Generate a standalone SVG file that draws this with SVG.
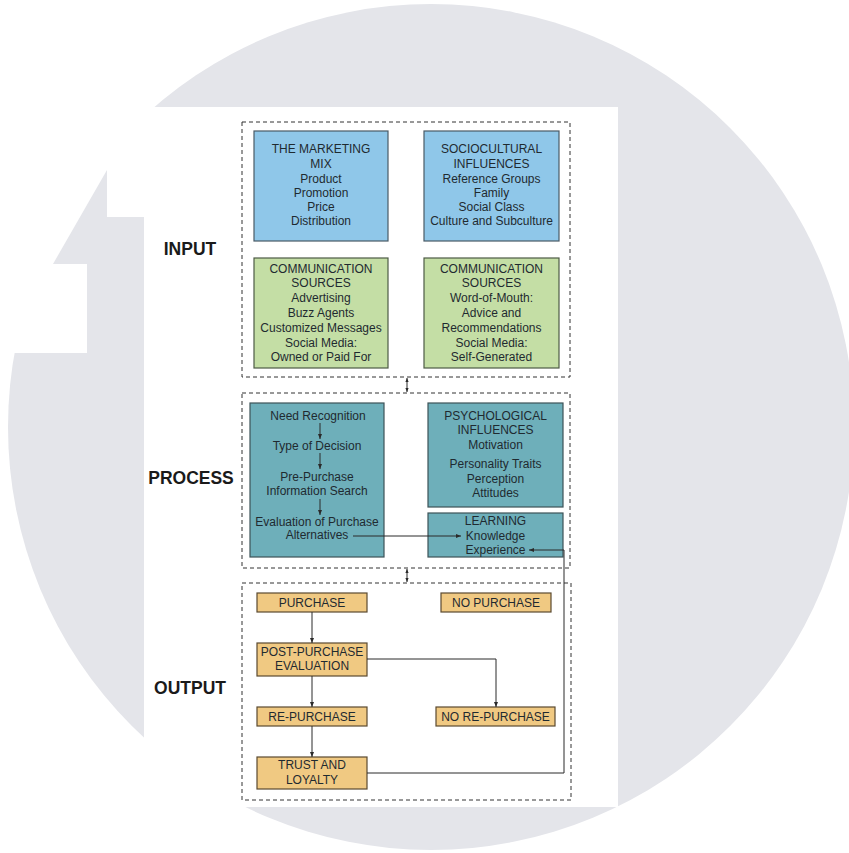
<svg xmlns="http://www.w3.org/2000/svg" width="849" height="853" viewBox="0 0 849 853">
<style>
.t{font-family:"Liberation Sans",Arial,sans-serif;font-size:12px;fill:#1f2a30;text-anchor:middle}
.lbl{font-family:"Liberation Sans",Arial,sans-serif;font-size:17.5px;font-weight:bold;fill:#1a1a1a;text-anchor:middle}
.dash{fill:none;stroke:#333;stroke-width:1;stroke-dasharray:4 3}
.blue{fill:#8fc7e9;stroke:#4a5a66;stroke-width:1.2}
.green{fill:#c4dea5;stroke:#4d5a45;stroke-width:1.2}
.teal{fill:#6eafba;stroke:#3d5358;stroke-width:1.2}
.tan{fill:#f0c982;stroke:#5a4a30;stroke-width:1.2}
.c{fill:none;stroke:#2a2a2a;stroke-width:1}
</style>
<defs>
<marker id="ah" viewBox="0 0 10 10" refX="10" refY="5" markerWidth="5" markerHeight="5" orient="auto" markerUnits="userSpaceOnUse">
<path d="M0,1 L10,5 L0,9 z" fill="#2a2a2a"/>
</marker>
<marker id="ah2" viewBox="0 0 10 10" refX="10" refY="5" markerWidth="4" markerHeight="4" orient="auto-start-reverse" markerUnits="userSpaceOnUse">
<path d="M0,1 L10,5 L0,9 z" fill="#2a2a2a"/>
</marker>
</defs>
<rect width="849" height="853" fill="#ffffff"/>
<circle cx="431" cy="427" r="423" fill="#e4e5ea"/>
<polygon points="0,0 144,0 144,217 107,217 107,170 53,264 87,264 87,353 0,353" fill="#ffffff"/>
<rect x="144" y="107" width="474" height="700" fill="#ffffff"/>

<g id="labels">
<text class="lbl" x="190" y="255">INPUT</text>
<text class="lbl" x="191" y="484">PROCESS</text>
<text class="lbl" x="190" y="694">OUTPUT</text>
</g>

<g id="sections">
<rect class="dash" x="242" y="122" width="328" height="255"/>
<rect class="dash" x="242" y="393" width="328" height="175"/>
<rect class="dash" x="242" y="583" width="329" height="217"/>
</g>

<g id="marketing-mix">
<rect class="blue" x="254" y="131" width="134" height="110"/>
<text class="t" x="321" y="153">THE MARKETING</text>
<text class="t" x="321" y="168">MIX</text>
<text class="t" x="321" y="183">Product</text>
<text class="t" x="321" y="197">Promotion</text>
<text class="t" x="321" y="211">Price</text>
<text class="t" x="321" y="225">Distribution</text>
</g>

<g id="sociocultural">
<rect class="blue" x="424" y="131" width="135" height="110"/>
<text class="t" x="491.5" y="153">SOCIOCULTURAL</text>
<text class="t" x="491.5" y="168">INFLUENCES</text>
<text class="t" x="491.5" y="183">Reference Groups</text>
<text class="t" x="491.5" y="197">Family</text>
<text class="t" x="491.5" y="211">Social Class</text>
<text class="t" x="491.5" y="225">Culture and Subculture</text>
</g>

<g id="comm-left">
<rect class="green" x="254" y="258" width="134" height="110"/>
<text class="t" x="321" y="273">COMMUNICATION</text>
<text class="t" x="321" y="287">SOURCES</text>
<text class="t" x="321" y="302">Advertising</text>
<text class="t" x="321" y="317">Buzz Agents</text>
<text class="t" x="321" y="332">Customized Messages</text>
<text class="t" x="321" y="347">Social Media:</text>
<text class="t" x="321" y="361">Owned or Paid For</text>
</g>

<g id="comm-right">
<rect class="green" x="424" y="258" width="135" height="110"/>
<text class="t" x="491.5" y="273">COMMUNICATION</text>
<text class="t" x="491.5" y="287">SOURCES</text>
<text class="t" x="491.5" y="302">Word-of-Mouth:</text>
<text class="t" x="491.5" y="317">Advice and</text>
<text class="t" x="491.5" y="332">Recommendations</text>
<text class="t" x="491.5" y="347">Social Media:</text>
<text class="t" x="491.5" y="361">Self-Generated</text>
</g>

<g id="decision-process">
<rect class="teal" x="250" y="403" width="134" height="154"/>
<text class="t" x="318" y="420">Need Recognition</text>
<text class="t" x="317" y="450">Type of Decision</text>
<text class="t" x="317" y="481">Pre-Purchase</text>
<text class="t" x="317" y="495">Information Search</text>
<text class="t" x="317" y="526">Evaluation of Purchase</text>
<text class="t" x="317" y="539">Alternatives</text>
</g>

<g id="psychological">
<rect class="teal" x="428" y="403" width="135" height="104"/>
<text class="t" x="495.5" y="420">PSYCHOLOGICAL</text>
<text class="t" x="495.5" y="434">INFLUENCES</text>
<text class="t" x="495.5" y="449">Motivation</text>
<text class="t" x="495.5" y="468">Personality Traits</text>
<text class="t" x="495.5" y="483">Perception</text>
<text class="t" x="495.5" y="497">Attitudes</text>
</g>

<g id="learning">
<rect class="teal" x="428" y="513" width="135" height="44"/>
<text class="t" x="495.5" y="525">LEARNING</text>
<text class="t" x="495.5" y="540">Knowledge</text>
<text class="t" x="495.5" y="554">Experience</text>
</g>

<g id="purchase">
<rect class="tan" x="257" y="593" width="110" height="19"/>
<text class="t" x="312" y="606.5">PURCHASE</text>
</g>
<g id="no-purchase">
<rect class="tan" x="441" y="593" width="110" height="19"/>
<text class="t" x="496" y="606.5">NO PURCHASE</text>
</g>
<g id="post-purchase">
<rect class="tan" x="257" y="643" width="110" height="33"/>
<text class="t" x="312" y="656">POST-PURCHASE</text>
<text class="t" x="312" y="670">EVALUATION</text>
</g>
<g id="re-purchase">
<rect class="tan" x="257" y="707" width="110" height="19"/>
<text class="t" x="312" y="720.5">RE-PURCHASE</text>
</g>
<g id="no-re-purchase">
<rect class="tan" x="436" y="707" width="119" height="19"/>
<text class="t" x="495.5" y="720.5">NO RE-PURCHASE</text>
</g>
<g id="trust-loyalty">
<rect class="tan" x="257" y="757" width="110" height="32"/>
<text class="t" x="312" y="769">TRUST AND</text>
<text class="t" x="312" y="784">LOYALTY</text>
</g>

<g id="connectors">
<line class="c" x1="407" y1="378" x2="407" y2="392" marker-start="url(#ah2)" marker-end="url(#ah2)"/>
<line class="c" x1="407" y1="569" x2="407" y2="582" marker-start="url(#ah2)" marker-end="url(#ah2)"/>
<line class="c" x1="320" y1="423" x2="320" y2="439" marker-end="url(#ah)"/>
<line class="c" x1="320" y1="453" x2="320" y2="469" marker-end="url(#ah)"/>
<line class="c" x1="320" y1="499" x2="320" y2="515" marker-end="url(#ah)"/>
<line class="c" x1="353" y1="536" x2="461" y2="536" marker-end="url(#ah)"/>
<polyline class="c" points="367,773 564,773 564,550 529,550" marker-end="url(#ah)"/>
<line class="c" x1="312" y1="612" x2="312" y2="643" marker-end="url(#ah)"/>
<line class="c" x1="312" y1="676" x2="312" y2="707" marker-end="url(#ah)"/>
<line class="c" x1="312" y1="726" x2="312" y2="757" marker-end="url(#ah)"/>
<polyline class="c" points="367,659 496,659 496,707" marker-end="url(#ah)"/>
</g>
</svg>
